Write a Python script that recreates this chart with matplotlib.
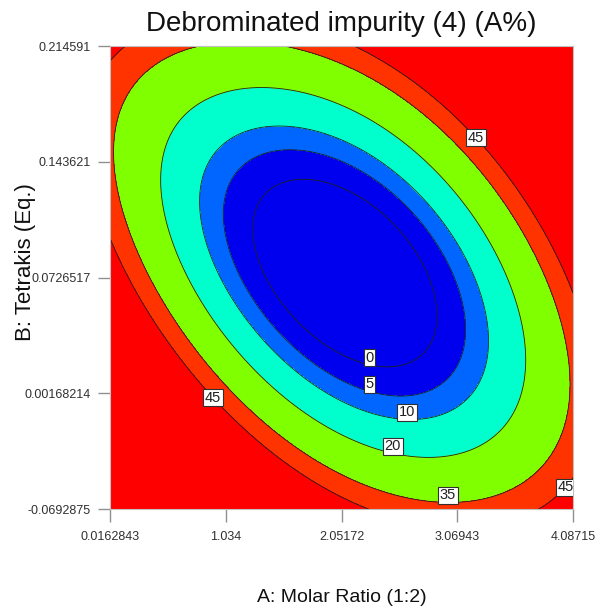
import numpy as np
import matplotlib
matplotlib.use("Agg")
import matplotlib.pyplot as plt

plt.rcParams['font.family'] = ['Liberation Sans', 'DejaVu Sans']

# factor ranges (actual units)
a_low, a_high = 0.0162843, 4.08715
b_low, b_high = -0.0692875, 0.214591

# contour points, in coded units (-1..1)
u0 = [-0.387, -0.158, 0.413, 0.201, 0.227, -0.205, 0.348, -0.322, 0.123]
v0 = [0.175, 0.421, -0.127, -0.382, 0.235, -0.197, -0.317, 0.356, -0.369]
u5 = [-0.512, -0.214, 0.533, 0.274, 0.285, -0.263, 0.456, -0.434, 0.123]
v5 = [0.218, 0.551, -0.140, -0.508, 0.296, -0.253, -0.423, 0.467, -0.486]
u10 = [-0.611, -0.317, 0.641, 0.305, 0.343, -0.305, 0.559, -0.521, 0.283]
v10 = [0.283, 0.650, -0.175, -0.616, 0.341, -0.307, -0.523, 0.557, -0.607]
u20 = [-0.775, 0.801, -0.516, 0.425, 0.222]
v20 = [0.378, -0.270, 0.814, -0.780, -0.758]
u35 = [-0.970, 0.987, -0.667, -0.296, 0.460, 0.425, 0.715, 0.857, 0.857]
v35 = [0.521, -0.413, 1.0, 1.0, -0.974, 0.693, 0.279, 0.045, -0.801]
u45 = [-0.935, 0.024, -1.0, -1.0, 1.0, 1.0, 0.110, 0.857, 0.425, 0.585, 0.715, 0.857, -0.551]
v45 = [1.0, 1.0, 0.931, 0.149, -0.041, -0.866, -1.0, -1.0, 0.745, 0.607, 0.421, 0.218, -0.516]

levels = [0, 5, 10, 20, 35, 45]
fill_colors = ['#0000EE', '#0000EE', '#0066FF', '#00FFCC', '#80FF00', '#FF3300', '#FF0000']

# where each label sits on its contour (coded)
lab_u = [0.123, 0.123, 0.283, 0.222, 0.460, 0.585, -0.551, 0.952]
lab_v = [-0.369, -0.486, -0.607, -0.758, -0.974, 0.607, -0.516, -0.894]


def terms(u, v):
    return np.stack([np.ones_like(u), u, v, u * v, u ** 2, v ** 2,
                     u ** 3, u ** 2 * v, u * v ** 2, v ** 3,
                     u ** 4, u ** 3 * v, u ** 2 * v ** 2, u * v ** 3, v ** 4], axis=-1)


# surface through the read contour points (least squares)
groups = [(u0, v0, 0), (u5, v5, 5), (u10, v10, 10), (u20, v20, 20), (u35, v35, 35), (u45, v45, 45)]
pu = np.concatenate([g[0] for g in groups])
pv = np.concatenate([g[1] for g in groups])
pz = np.concatenate([[g[2]] * len(g[0]) for g in groups]).astype(float)
coef, *_ = np.linalg.lstsq(terms(pu, pv), pz, rcond=None)


def to_a(u):
    return (a_low + a_high) / 2 + np.asarray(u) * (a_high - a_low) / 2


def to_b(v):
    return (b_low + b_high) / 2 + np.asarray(v) * (b_high - b_low) / 2


uu, vv = np.meshgrid(np.linspace(-1, 1, 400), np.linspace(-1, 1, 400))
zz = terms(uu, vv) @ coef
AA, BB = to_a(uu), to_b(vv)

fig = plt.figure(figsize=(6.01, 6.12), dpi=100)
ax = fig.add_axes([110 / 601, 1 - 509 / 612, 463 / 601, 463 / 612])

ax.contourf(AA, BB, zz, levels=[-1e6] + levels + [1e6], colors=fill_colors)
cs = ax.contour(AA, BB, zz, levels=levels, colors='#202020', linewidths=0.6)
lbls = ax.clabel(cs, fmt='%d', fontsize=10.5, inline=False,
                 manual=list(zip(to_a(lab_u), to_b(lab_v))))
for t in lbls:
    t.set_bbox(dict(facecolor='white', edgecolor='#303030', pad=1.2, linewidth=0.8))
    t.set_color('#202020')
    t.set_rotation(0)
    if t.get_text() != '45':
        t.set_va('bottom')

xt = np.linspace(a_low, a_high, 5)
yt = np.linspace(b_low, b_high, 5)
ax.set_xticks(xt)
ax.set_xticklabels(['0.0162843', '1.034', '2.05172', '3.06943', '4.08715'])
ax.set_yticks(yt)
ax.set_yticklabels(['-0.0692875', '0.00168214', '0.0726517', '0.143621', '0.214591'])
ax.set_xlim(a_low, a_high)
ax.set_ylim(b_low, b_high)
ax.tick_params(length=9, width=1, color='#909090', labelsize=9, labelcolor='#303030', pad=5)
ax.tick_params(axis='x', pad=7)
for s in ax.spines.values():
    s.set_color('#c0c0c0')
    s.set_linewidth(0.8)

fig.text(341.5 / 601, 1 - 24 / 612, 'Debrominated impurity (4) (A%)', ha='center', va='center',
         fontsize=20, color='#111111')
fig.text(341.5 / 601, 1 - 597 / 612, 'A: Molar Ratio (1:2)', ha='center', va='center',
         fontsize=14, color='#111111')
fig.text(26 / 601, 1 - 262 / 612, 'B: Tetrakis (Eq.)', ha='center', va='center',
         rotation=90, fontsize=16, color='#111111')

fig.savefig('out.png', dpi=100)
